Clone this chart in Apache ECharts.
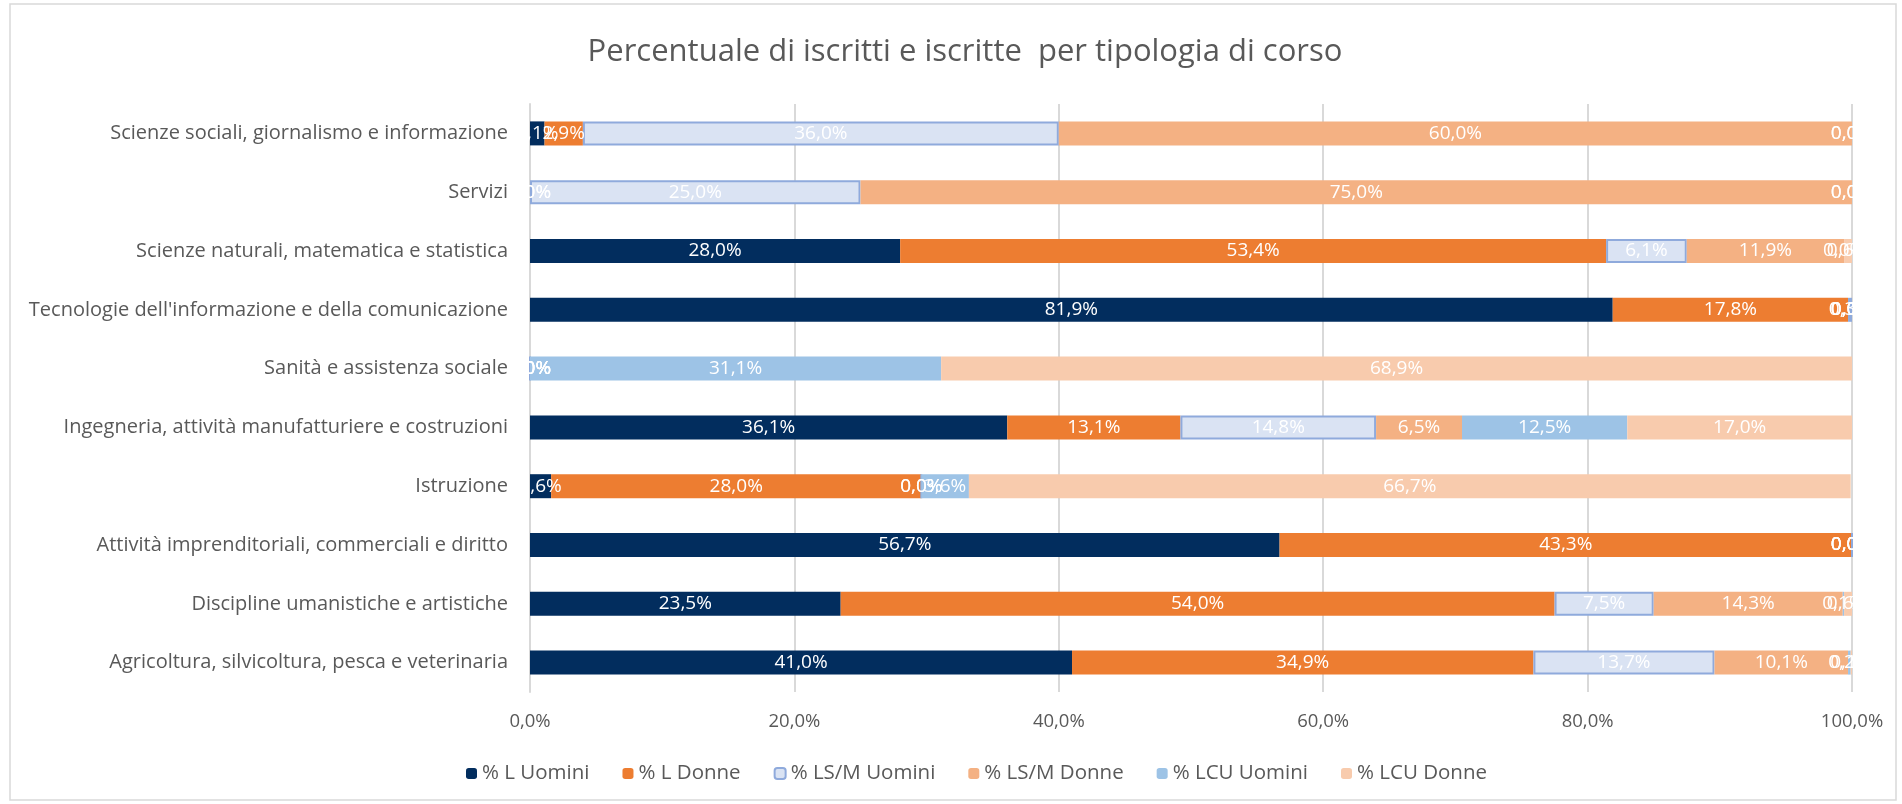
<!DOCTYPE html>
<html>
<head>
<meta charset="utf-8">
<script src="https://cdn.jsdelivr.net/npm/echarts@6/dist/echarts.min.js"></script>
<style>
html,body{margin:0;padding:0;background:#fff;}
#chart{width:1902px;height:804px;}
</style>
</head>
<body>
<div id="chart"></div>
<script>
var titleText = 'Percentuale di iscritti e iscritte  per tipologia di corso';
var categories = [
  'Scienze sociali, giornalismo e informazione',
  'Servizi',
  'Scienze naturali, matematica e statistica',
  "Tecnologie dell'informazione e della comunicazione",
  'Sanità e assistenza sociale',
  'Ingegneria, attività manufatturiere e costruzioni',
  'Istruzione',
  'Attività imprenditoriali, commerciali e diritto',
  'Discipline umanistiche e artistiche',
  'Agricoltura, silvicoltura, pesca e veterinaria'
];
var seriesNames = ['% L Uomini', '% L Donne', '% LS/M Uomini', '% LS/M Donne', '% LCU Uomini', '% LCU Donne'];
var lUomini    = [1.1, 0.0, 28.0, 81.9, 0.0, 36.1, 1.6, 56.7, 23.5, 41.0];
var lDonne     = [2.9, 0.0, 53.4, 17.8, 0.0, 13.1, 28.0, 43.3, 54.0, 34.9];
var lsmUomini  = [36.0, 25.0, 6.1, 0.3, 0.0, 14.8, 0.0, 0.0, 7.5, 13.7];
var lsmDonne   = [60.0, 75.0, 11.9, 0.0, 0.0, 6.5, 0.0, 0.0, 14.3, 10.1];
var lcuUomini  = [0.0, 0.0, 0.0, 0.0, 31.1, 12.5, 3.6, 0.0, 0.1, 0.2];
var lcuDonne   = [0.0, 0.0, 0.6, 0.0, 68.9, 17.0, 66.7, 0.0, 0.6, 0.1];
var xTicks = [0, 20, 40, 60, 80, 100];

var FONT = '"Open Sans"';
function pct(v){ return v.toFixed(1).replace('.', ',') + '%'; }

var styles = [
  {color:'#022d5e'},
  {color:'#ed7d31'},
  {color:'#dae3f3', borderColor:'#8faadc', borderWidth:2},
  {color:'#f4b183'},
  {color:'#9dc3e6'},
  {color:'#f8cbad'}
];
var values = [lUomini, lDonne, lsmUomini, lsmDonne, lcuUomini, lcuDonne];

var series = seriesNames.map(function(n, i){
  return {
    name: n,
    type: 'bar',
    stack: 'tot',
    barWidth: 24,
    data: values[i],
    itemStyle: styles[i],
    label: {
      show: true,
      position: 'inside',
      color: '#ffffff',
      fontFamily: FONT,
      fontSize: 19,
      formatter: function(p){ return pct(p.value); }
    },
    emphasis: {disabled: true}
  };
});

var chart = echarts.init(document.getElementById('chart'), null, {renderer:'canvas'});
chart.setOption({
  animation: false,
  backgroundColor: '#ffffff',
  title: {
    text: titleText,
    left: 960,
    top: 32,
    textAlign: 'center',
    textStyle: {fontFamily: FONT, fontSize: 31, fontWeight: 'normal', color: '#595959'}
  },
  legend: {
    data: seriesNames,
    left: 461,
    top: 758,
    itemWidth: 11,
    itemHeight: 11,
    itemGap: 33,
    textStyle: {fontFamily: FONT, fontSize: 20.5, color: '#595959'}
  },
  grid: {left: 530, right: 50, top: 104, bottom: 112, containLabel: false},
  xAxis: {
    type: 'value',
    min: xTicks[0],
    max: xTicks[xTicks.length - 1],
    interval: 20,
    axisLine: {show: false},
    axisTick: {show: false},
    splitLine: {show: true, lineStyle: {color: '#d9d9d9', width: 2}},
    axisLabel: {
      fontFamily: FONT, fontSize: 18.5, color: '#595959', margin: 20,
      formatter: function(v){ return pct(v); }
    }
  },
  yAxis: {
    type: 'category',
    inverse: true,
    data: categories,
    axisLine: {show: true, lineStyle: {color: '#d9d9d9', width: 2}},
    axisTick: {show: false},
    axisLabel: {fontFamily: FONT, fontSize: 20, color: '#595959', margin: 22}
  },
  graphic: [{
    type: 'rect',
    shape: {x: 10, y: 4, width: 1886, height: 796},
    style: {fill: 'none', stroke: '#d9d9d9', lineWidth: 1.5},
    silent: true,
    z: -1
  }],
  series: series
});
</script>
</body>
</html>
